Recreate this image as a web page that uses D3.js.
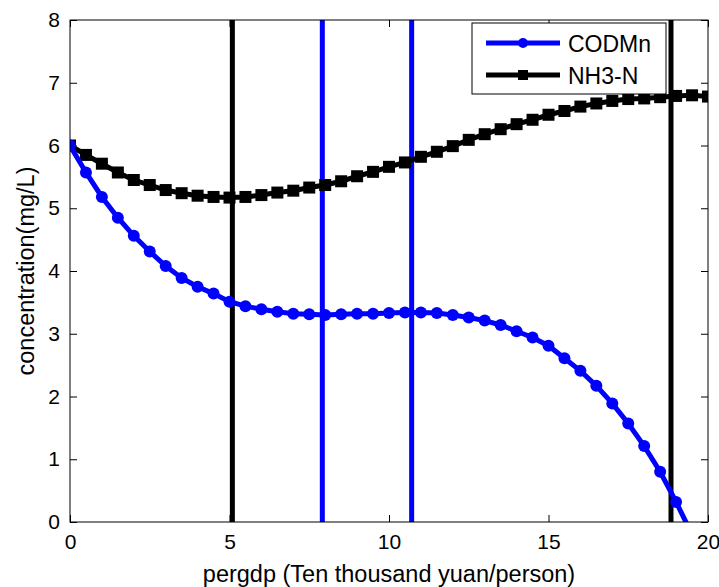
<!DOCTYPE html>
<html>
<head>
<meta charset="utf-8">
<script src="https://cdn.jsdelivr.net/npm/d3@7"></script>
<style>
  body { margin: 0; background: #fff; }
  svg text { font-family: "Liberation Sans", Arial, sans-serif; fill: #000; }
</style>
</head>
<body>
<svg id="chart" width="719" height="587"></svg>
<script>
// pergdp values (Ten thousand yuan/person)
const pergdp = [0, 0.5, 1, 1.5, 2, 2.5, 3, 3.5, 4, 4.5, 5, 5.5, 6, 6.5, 7, 7.5, 8, 8.5, 9, 9.5,
  10, 10.5, 11, 11.5, 12, 12.5, 13, 13.5, 14, 14.5, 15, 15.5, 16, 16.5, 17, 17.5, 18, 18.5, 19, 19.5, 20];
const codmn = [6.00, 5.57, 5.18, 4.85, 4.56, 4.31, 4.08, 3.89, 3.75, 3.64, 3.51, 3.44, 3.39, 3.35, 3.32, 3.31,
  3.30, 3.31, 3.32, 3.32, 3.33, 3.34, 3.34, 3.33, 3.30, 3.26, 3.21, 3.14, 3.04, 2.94, 2.81, 2.61, 2.41, 2.17,
  1.89, 1.57, 1.21, 0.80, 0.32, -0.20, -0.80];
const nh3n = [6.00, 5.85, 5.71, 5.57, 5.45, 5.37, 5.29, 5.24, 5.20, 5.18, 5.17, 5.18, 5.21, 5.25, 5.28, 5.33,
  5.37, 5.43, 5.51, 5.58, 5.66, 5.73, 5.82, 5.90, 5.99, 6.09, 6.18, 6.26, 6.34, 6.41, 6.49, 6.55, 6.62, 6.67,
  6.71, 6.74, 6.75, 6.77, 6.79, 6.80, 6.78];
// vertical marker lines
const blackLines = [5.09, 18.84];
const blueLines = [7.91, 10.71];
const xTicks = [0, 5, 10, 15, 20];
const yTicks = [0, 1, 2, 3, 4, 5, 6, 7, 8];

const margin = { top: 20, right: 11, bottom: 65, left: 70 };
const width = 719 - margin.left - margin.right;
const height = 587 - margin.top - margin.bottom;

const svg = d3.select("#chart");
const g = svg.append("g").attr("transform", `translate(${margin.left},${margin.top})`);

const x = d3.scaleLinear().domain([0, 20]).range([0, width]);
const y = d3.scaleLinear().domain([0, 8]).range([height, 0]);

svg.append("defs").append("clipPath").attr("id", "plotclip")
  .append("rect").attr("width", width).attr("height", height);

// axes box with inward ticks on all four sides
const tickLen = 7;
g.append("g").attr("transform", `translate(0,${height})`)
  .call(d3.axisBottom(x).tickValues(xTicks).tickSizeInner(-tickLen).tickSizeOuter(0).tickPadding(12))
  .call(a => a.select(".domain").remove());
g.append("g").call(d3.axisTop(x).tickValues(xTicks).tickSizeInner(-tickLen).tickSizeOuter(0).tickFormat(""))
  .call(a => a.select(".domain").remove());
g.append("g").call(d3.axisLeft(y).tickValues(yTicks).tickSizeInner(-tickLen).tickSizeOuter(0).tickPadding(10))
  .call(a => a.select(".domain").remove());
g.append("g").attr("transform", `translate(${width},0)`)
  .call(d3.axisRight(y).tickValues(yTicks).tickSizeInner(-tickLen).tickSizeOuter(0).tickFormat(""))
  .call(a => a.select(".domain").remove());
g.selectAll(".tick line").attr("stroke", "#000").attr("stroke-width", 1);
g.selectAll(".tick text").attr("font-size", "21px").attr("font-family", "Liberation Sans, Arial, sans-serif");

const plot = g.append("g").attr("clip-path", "url(#plotclip)");

// vertical lines
plot.selectAll(".vblack").data(blackLines).enter().append("line")
  .attr("x1", d => x(d)).attr("x2", d => x(d)).attr("y1", 0).attr("y2", height)
  .attr("stroke", "#000").attr("stroke-width", 5);
plot.selectAll(".vblue").data(blueLines).enter().append("line")
  .attr("x1", d => x(d)).attr("x2", d => x(d)).attr("y1", 0).attr("y2", height)
  .attr("stroke", "#0000ff").attr("stroke-width", 5);

const line = d3.line().x(d => x(d[0])).y(d => y(d[1]));
const codData = pergdp.map((p, i) => [p, codmn[i]]);
const nhData = pergdp.map((p, i) => [p, nh3n[i]]);

// NH3-N
plot.append("path").datum(nhData).attr("d", line)
  .attr("fill", "none").attr("stroke", "#000").attr("stroke-width", 5);
plot.selectAll(".sq").data(nhData).enter().append("rect")
  .attr("x", d => x(d[0]) - 6).attr("y", d => y(d[1]) - 6)
  .attr("width", 12).attr("height", 12).attr("fill", "#000");

// CODMn
plot.append("path").datum(codData).attr("d", line)
  .attr("fill", "none").attr("stroke", "#0000ff").attr("stroke-width", 5);
plot.selectAll(".dot").data(codData).enter().append("circle")
  .attr("cx", d => x(d[0])).attr("cy", d => y(d[1])).attr("r", 6).attr("fill", "#0000ff");

// frame
g.append("rect").attr("width", width).attr("height", height)
  .attr("fill", "none").attr("stroke", "#000").attr("stroke-width", 1);

// axis labels
svg.append("text")
  .attr("x", margin.left + width / 2).attr("y", 582)
  .attr("text-anchor", "middle").attr("font-size", "23.5px")
  .text("pergdp (Ten thousand yuan/person)");
svg.append("text")
  .attr("transform", `translate(34,${margin.top + height / 2}) rotate(-90)`)
  .attr("text-anchor", "middle").attr("font-size", "23.5px")
  .text("concentration(mg/L)");

// legend
const legend = svg.append("g").attr("transform", "translate(472,23)");
legend.append("rect").attr("width", 194).attr("height", 71)
  .attr("fill", "#fff").attr("stroke", "#000").attr("stroke-width", 1);
const items = [
  { name: "CODMn", color: "#0000ff", shape: "circle" },
  { name: "NH3-N", color: "#000", shape: "square" }
];
items.forEach((it, i) => {
  const ly = 20 + i * 32;
  legend.append("line").attr("x1", 14).attr("x2", 88).attr("y1", ly).attr("y2", ly)
    .attr("stroke", it.color).attr("stroke-width", 5);
  if (it.shape === "circle") {
    legend.append("circle").attr("cx", 51).attr("cy", ly).attr("r", 5).attr("fill", it.color);
  } else {
    legend.append("rect").attr("x", 46).attr("y", ly - 5).attr("width", 10).attr("height", 10).attr("fill", it.color);
  }
  legend.append("text").attr("x", 96).attr("y", ly + 8.5)
    .attr("font-size", "23px").text(it.name);
});
</script>
</body>
</html>
